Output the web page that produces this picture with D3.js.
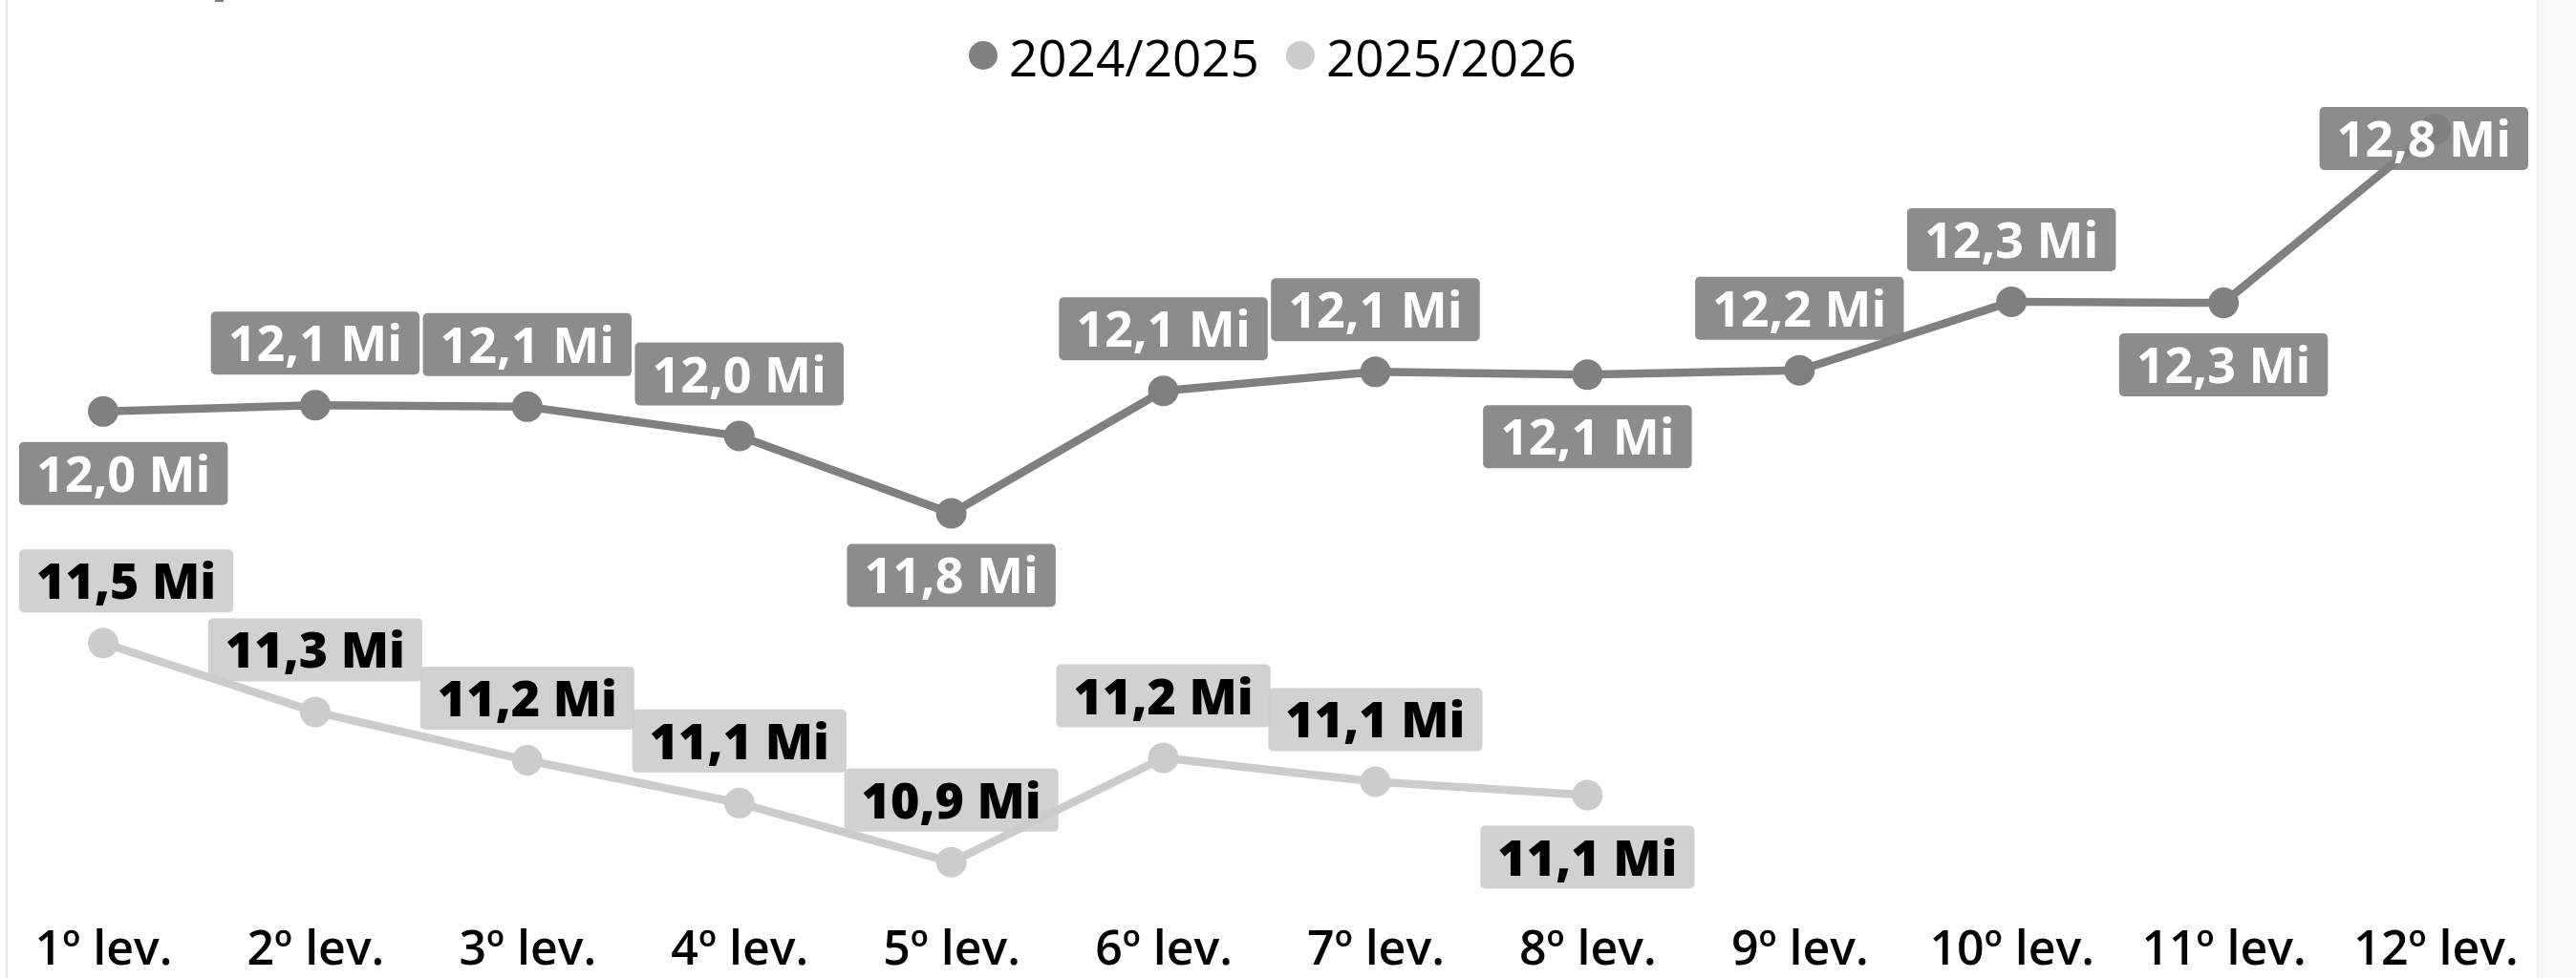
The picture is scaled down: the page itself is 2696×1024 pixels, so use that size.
<!DOCTYPE html>
<html>
<head>
<meta charset="utf-8">
<script src="https://cdn.jsdelivr.net/npm/d3@7"></script>
<style>
  html, body { margin: 0; padding: 0; background: #ffffff; }
  svg { display: block; }
</style>
</head>
<body>
<svg id="chart" width="2696" height="1024"></svg>
<script>
// ---- Data ----
const categories = ["1º lev.", "2º lev.", "3º lev.", "4º lev.", "5º lev.", "6º lev.",
                    "7º lev.", "8º lev.", "9º lev.", "10º lev.", "11º lev.", "12º lev."];
const seriesNames = ["2024/2025", "2025/2026"];
// values in millions
const values2024 = [12.048, 12.064, 12.060, 11.986, 11.791, 12.100, 12.148, 12.141, 12.152, 12.325, 12.322, 12.761];
const values2025 = [11.464, 11.290, 11.168, 11.060, 10.911, 11.174, 11.114, 11.080];
const labelSide2024 = ["below", "above", "above", "above", "below", "above", "above", "below", "above", "above", "below", "above"];
const labelSide2025 = ["above", "above", "above", "above", "above", "above", "above", "below"];

// ---- Styles ----
const colors = ["#808080", "#cccccc"];
const labelFill = ["#808080", "#cccccc"];
const labelText = ["#ffffff", "#000000"];
const labelWeight = [700, 800];
const fontFamily = "'Open Sans', 'Noto Sans', sans-serif";

const svg = d3.select("#chart");
const W = 2696, H = 1024;

// frame decorations
svg.append("rect").attr("x", 0).attr("y", 0).attr("width", W).attr("height", H).attr("fill", "#ffffff");
svg.append("rect").attr("x", 6).attr("y", 0).attr("width", 2).attr("height", H).attr("fill", "#e6e6e6");
svg.append("rect").attr("x", 2655).attr("y", 0).attr("width", W - 2655).attr("height", H).attr("fill", "#f8f8f8");
svg.append("rect").attr("x", 2655).attr("y", 0).attr("width", 2).attr("height", H).attr("fill", "#eeeeee");
svg.append("rect").attr("x", 225).attr("y", 0).attr("width", 9).attr("height", 2).attr("fill", "#808080");

// ---- Scales ----
const plotLeft = 20, plotRight = 2646, plotTop = 112;
const x = d3.scalePoint().domain(categories).range([108, 2549]);
const y = d3.scaleLinear().domain([10.8, 12.9]).range([948.75, 77.25]);

// ---- Axis ----
const axis = d3.axisBottom(x).tickSize(0).tickPadding(0);
const gAxis = svg.append("g").attr("transform", "translate(0,1010)").call(axis);
gAxis.select(".domain").remove();
gAxis.selectAll("text")
  .attr("y", 0).attr("dy", null)
  .attr("fill", "#000000")
  .style("font-family", fontFamily)
  .style("font-size", "50px")
  .style("font-weight", 600);

// ---- Series ----
const seriesData = [
  values2024.map((v, i) => ({cat: categories[i], v, side: labelSide2024[i]})),
  values2025.map((v, i) => ({cat: categories[i], v, side: labelSide2025[i]}))
];

const line = d3.line().x(d => x(d.cat)).y(d => y(d.v));

seriesData.forEach((data, s) => {
  svg.append("path")
    .datum(data)
    .attr("d", line)
    .attr("fill", "none")
    .attr("stroke", colors[s])
    .attr("stroke-width", 8.5)
    .attr("stroke-linejoin", "round");
  svg.append("g").selectAll("circle").data(data).join("circle")
    .attr("cx", d => x(d.cat)).attr("cy", d => y(d.v)).attr("r", 16)
    .attr("fill", colors[s]);
});

// ---- Data labels ----
const fmt = v => v.toFixed(1).replace(".", ",") + " Mi";
const fs = 52, padX = 18, boxH = 66, offset = 65;
seriesData.forEach((data, s) => {
  const g = svg.append("g");
  data.forEach(d => {
    const lg = g.append("g");
    const t = lg.append("text")
      .text(fmt(d.v))
      .attr("text-anchor", "middle")
      .attr("fill", labelText[s])
      .style("font-family", fontFamily)
      .style("font-size", fs + "px")
      .style("font-weight", labelWeight[s]);
    const tw = t.node().getComputedTextLength();
    const bw = tw + 2 * padX;
    let cx = x(d.cat);
    let cy = y(d.v) + (d.side === "above" ? -offset : offset);
    cx = Math.max(plotLeft + bw / 2, Math.min(plotRight - bw / 2, cx));
    cy = Math.max(plotTop + boxH / 2, cy);
    lg.insert("rect", "text")
      .attr("x", cx - bw / 2).attr("y", cy - boxH / 2)
      .attr("width", bw).attr("height", boxH)
      .attr("rx", 5).attr("ry", 5)
      .attr("fill", labelFill[s]).attr("fill-opacity", 0.9);
    t.attr("x", cx).attr("y", cy + fs * 0.365);
  });
});

// ---- Legend ----
const legend = svg.append("g");
let cursor = 1014;
seriesNames.forEach((name, s) => {
  legend.append("circle").attr("cx", cursor + 15).attr("cy", 58).attr("r", 15).attr("fill", colors[s]);
  const t = legend.append("text")
    .attr("x", cursor + 42).attr("y", 80)
    .text(name)
    .attr("fill", "#000000")
    .style("font-family", fontFamily)
    .style("font-size", "53px")
    .style("font-weight", 400);
  cursor = cursor + 42 + t.node().getComputedTextLength() + 28;
});
</script>
</body>
</html>
